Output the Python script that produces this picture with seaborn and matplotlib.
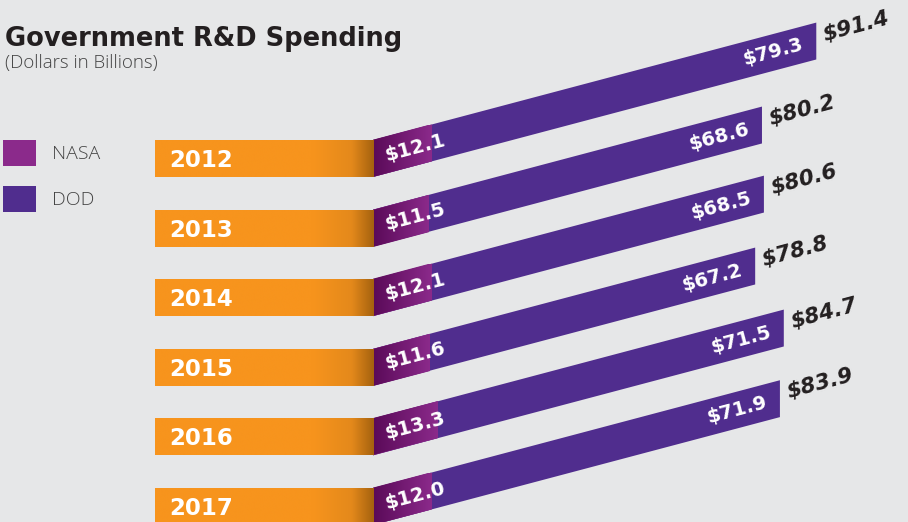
import numpy as np
import pandas as pd
import seaborn as sns
import matplotlib.pyplot as plt
from matplotlib.transforms import Affine2D
from matplotlib.colors import LinearSegmentedColormap
from matplotlib.patches import Patch

# data (billions of dollars)
years = ["2012", "2013", "2014", "2015", "2016", "2017"]
nasa = [12.1, 11.5, 12.1, 11.6, 13.3, 12.0]
dod = [79.3, 68.6, 68.5, 67.2, 71.5, 71.9]
totals = [91.4, 80.2, 80.6, 78.8, 84.7, 83.9]

BG = "#e6e7e8"
ORANGE = "#f7941d"
ORANGE_DARK = "#a5620f"
NASA_C = "#8b2a8b"
NASA_DARK = "#5a0a58"
DOD_C = "#502d8e"
INK = "#231f20"

sns.set_style("white")
plt.rcParams["font.family"] = ["DejaVu Sans"]

W, H, DPI = 908, 522, 100
fig = plt.figure(figsize=(W / DPI, H / DPI), dpi=DPI, facecolor=BG)

# layout in pixels: bars start at x0, rows spaced evenly
x0_px, px_per = 373, 4.85
row_px, top_row_px = 69.6, 158.5
slope = 0.265
angle = np.degrees(np.arctan(slope))

ax = fig.add_axes([0, 0, 1, 1])
ax.set_facecolor(BG)
ax.set_axis_off()

df = pd.DataFrame({"year": years, "nasa": nasa, "dod": dod, "total": totals})

sns.barplot(data=df, x="total", y="year", orient="h", color=DOD_C,
            saturation=1, width=0.53, linewidth=0, ax=ax)
n_dod = len(ax.patches)
sns.barplot(data=df, x="nasa", y="year", orient="h", color=NASA_C,
            saturation=1, width=0.53, linewidth=0, ax=ax)
nasa_patches = ax.patches[n_dod:]
skewed = list(ax.patches)

# orange year band (flat)
bands = ax.barh(years, 45, left=-45, height=0.53, color=ORANGE,
                linewidth=0, zorder=1)

skew = (Affine2D().translate(-x0_px, 0)
        .skew(0, np.arctan(slope)).translate(x0_px, 0))
tr = ax.transData + skew
for p in skewed:
    p.set_transform(tr)
    p.set_clip_on(False)
    p.set_edgecolor("none")

grad = np.linspace(0, 1, 256).reshape(1, -1)
cmap_n = LinearSegmentedColormap.from_list("n", [NASA_DARK, NASA_C])
for p in nasa_patches:
    x, y, w, h = p.get_x(), p.get_y(), p.get_width(), p.get_height()
    im = ax.imshow(grad, cmap=cmap_n, aspect="auto", interpolation="bicubic",
                   extent=[x, x + w, y + h, y], transform=tr,
                   zorder=p.get_zorder() + 0.1)
    im.set_clip_path(p)

cmap_o = LinearSegmentedColormap.from_list(
    "o", [(0, ORANGE), (0.72, ORANGE), (0.9, "#e4891b"), (1, ORANGE_DARK)])
for p in bands:
    x, y, w, h = p.get_x(), p.get_y(), p.get_width(), p.get_height()
    im = ax.imshow(grad, cmap=cmap_o, aspect="auto", interpolation="bicubic",
                   extent=[x, x + w, y + h, y], zorder=1.1)
    im.set_clip_path(p)

ax.set_xlim(-x0_px / px_per, (W - x0_px) / px_per)
ax.set_ylim((H - top_row_px) / row_px, -top_row_px / row_px)

for i, yr in enumerate(years):
    ax.text(-42, i + 0.03, yr, color="white", fontsize=16.5,
            fontweight="bold", ha="left", va="center", zorder=5)
    ax.text(2.5, i, f"${nasa[i]:.1f}", transform=tr, rotation=angle,
            rotation_mode="anchor", ha="left", va="center", color="white",
            fontsize=14, fontweight="bold", zorder=5)
    ax.text(totals[i] - 2.7, i, f"${dod[i]:.1f}", transform=tr,
            rotation=angle, rotation_mode="anchor", ha="right", va="center",
            color="white", fontsize=14, fontweight="bold", zorder=5)
    ax.text(totals[i] + 1.5, i - 0.06, f"${totals[i]:.1f}", transform=tr,
            rotation=angle, rotation_mode="anchor", ha="left", va="center",
            color=INK, fontsize=15.5, fontweight="bold", fontstyle="italic",
            zorder=5)

fig.text(5 / W, 1 - 46 / H, "Government R&D Spending", fontsize=18.5,
         fontweight="heavy", color=INK, ha="left", va="baseline")
fig.text(5 / W, 1 - 68 / H, "(Dollars in Billions)", fontsize=13.5,
         family=["Open Sans", "DejaVu Sans"], fontweight="light",
         color="#444444", ha="left", va="baseline")

handles = [Patch(facecolor=NASA_C, edgecolor="none"),
           Patch(facecolor=DOD_C, edgecolor="none")]
fig.legend(handles, ["NASA", "DOD"], loc="upper left",
           bbox_to_anchor=(3 / W, 1 - 140 / H), frameon=False,
           borderpad=0, borderaxespad=0, handlelength=1.7, handleheight=1.7,
           labelspacing=1.0, handletextpad=0.8, labelcolor="#444444",
           prop={"family": ["Open Sans", "DejaVu Sans"], "size": 14,
                 "weight": "light"})

fig.savefig("out.png", dpi=DPI, facecolor=BG)
plt.close(fig)
